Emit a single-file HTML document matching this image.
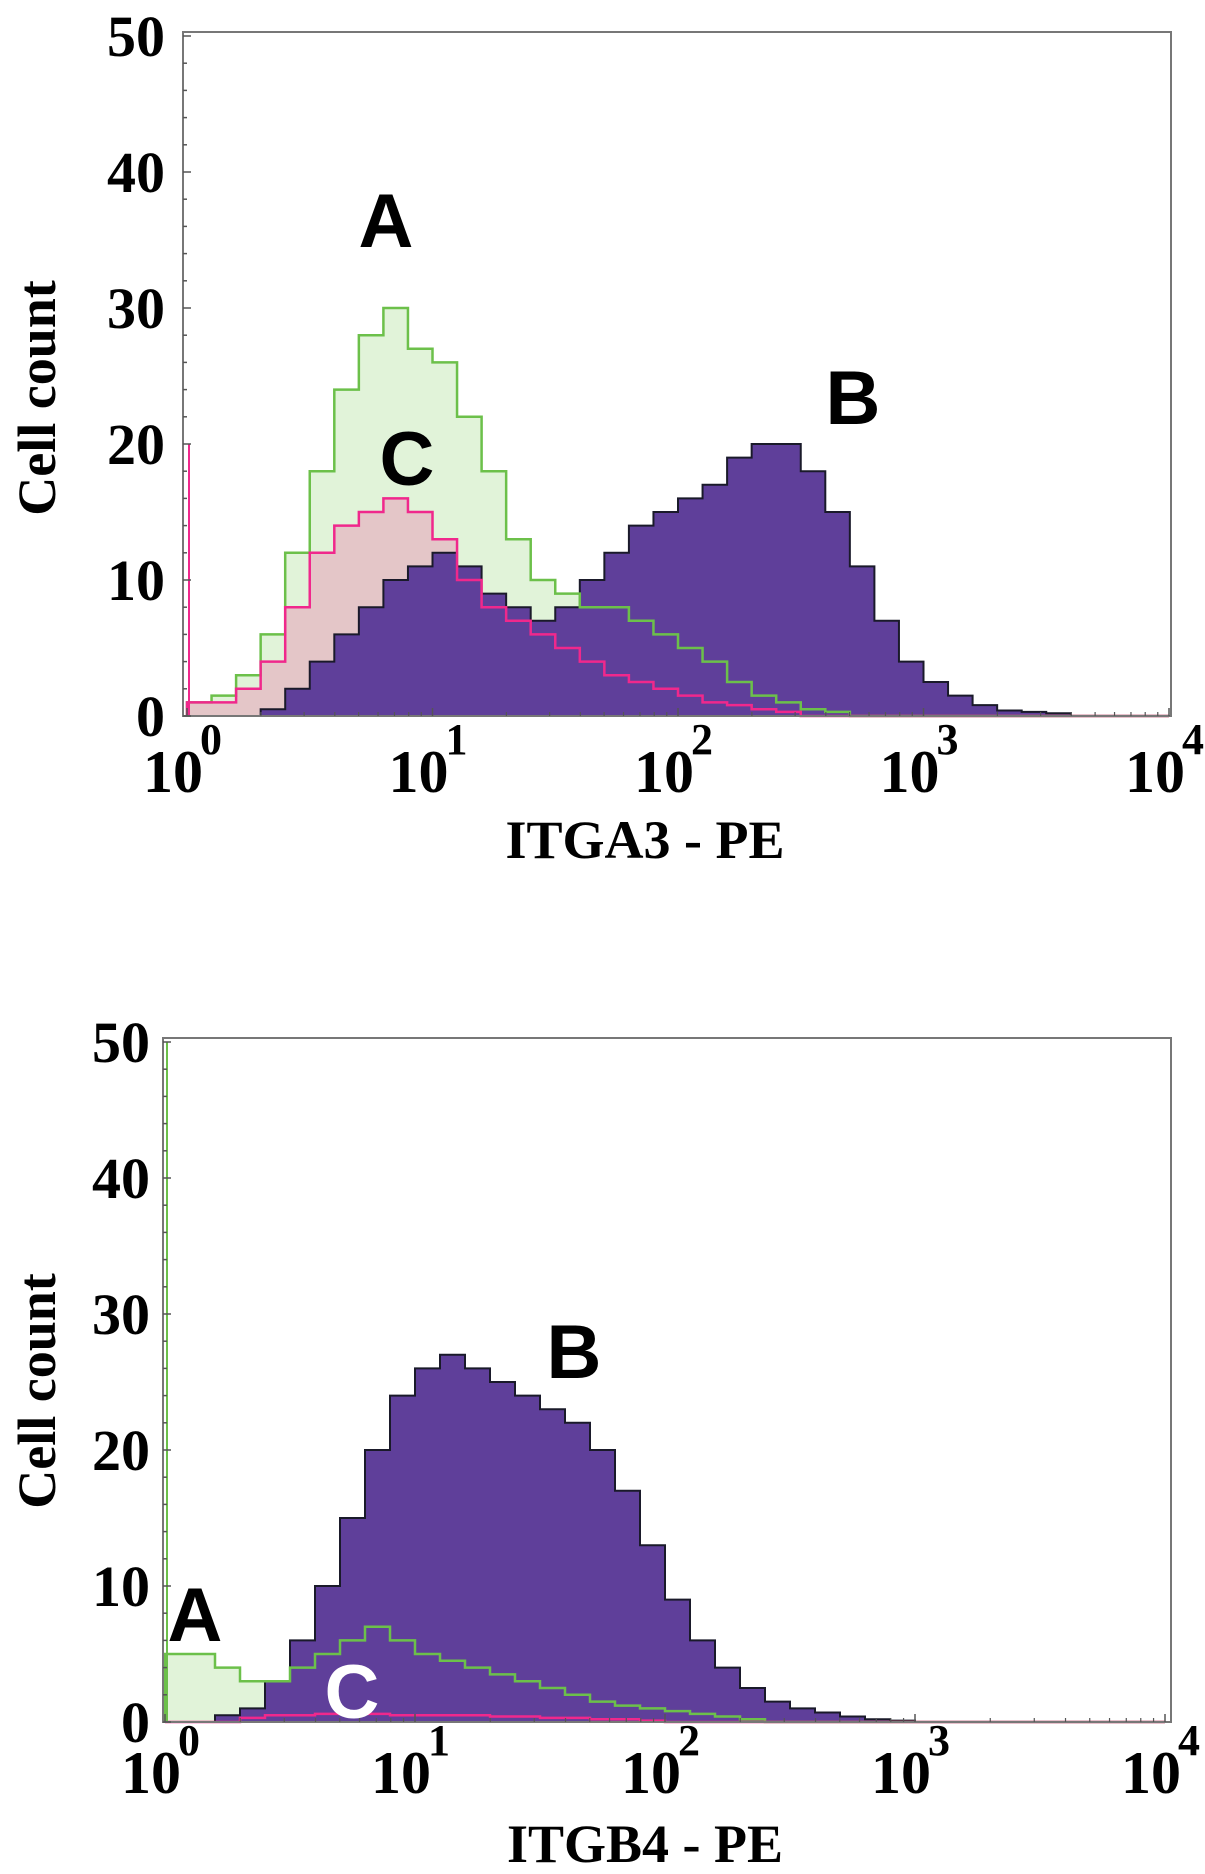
<!DOCTYPE html>
<html><head><meta charset="utf-8">
<style>
html,body{margin:0;padding:0;background:#fff;}
svg{display:block;}
text{font-family:"Liberation Serif",serif;font-weight:bold;fill:#000;}
.lbl{font-family:"Liberation Sans",sans-serif;font-weight:bold;}
</style></head>
<body>
<svg id="fig" width="1205" height="1874" viewBox="0 0 1205 1874" xmlns="http://www.w3.org/2000/svg"></svg>
<script>
// ---- data: cell counts per 0.1-decade bin (log10 fluorescence 0..4) ----
const xTickLabels = ["0","1","2","3","4"];
const yTickLabels = ["0","10","20","30","40","50"];
// Panel 1: ITGA3
const itga3B = [0,0,0,0.5,2,4,6,8,10,11,12,11,9,8,7,8,10,12,14,15,16,17,19,20,20,18,15,11,7,4,2.5,1.5,0.8,0.4,0.3,0.2,0,0,0,0];
const itga3A = [1,1.5,3,6,12,18,24,28,30,27,26,22,18,13,10,9,8,8,7,6,5,4,2.5,1.5,1,0.5,0.3,0,0,0,0,0,0,0,0,0,0,0,0,0];
const itga3C = [1,1,2,4,8,12,14,15,16,15,13,10,8,7,6,5,4,3,2.5,2,1.5,1,0.8,0.5,0.3,0,0,0,0,0,0,0,0,0,0,0,0,0,0,0];
const itga3FirstChannelC = 20;
// Panel 2: ITGB4
const itgb4B = [0,0,0.5,1,3,6,10,15,20,24,26,27,26,25,24,23,22,20,17,13,9,6,4,2.5,1.5,1,0.7,0.4,0.2,0.1,0,0,0,0,0,0,0,0,0,0];
const itgb4A = [5,5,4,3,3,4,5,6,7,6,5,4.5,4,3.5,3,2.5,2,1.5,1.2,1,0.8,0.6,0.4,0.2,0,0,0,0,0,0,0,0,0,0,0,0,0,0,0,0];
const itgb4C = [0,0,0,0.3,0.5,0.5,0.6,0.6,0.6,0.5,0.5,0.5,0.5,0.4,0.4,0.3,0.3,0.2,0.2,0.1,0,0,0,0,0,0,0,0,0,0,0,0,0,0,0,0,0,0,0,0];
const itgb4FirstChannelA = 50;

const NS = "http://www.w3.org/2000/svg";
const svg = document.getElementById('fig');
function mk(tag, attrs, parent){
  const e = document.createElementNS(NS, tag);
  for (const k in attrs) e.setAttribute(k, attrs[k]);
  (parent||svg).appendChild(e);
  return e;
}

function panel(cfg){
  const g = mk('g', {});
  
  
  const xS = v => cfg.x0 + (v/4)*(cfg.x1 - cfg.x0);
  const yS = v => cfg.y0 - (v/50)*(cfg.y0 - cfg.yTop);
  const binW = 0.1;

  function stepPath(arr, close){
    let d = 'M' + xS(0) + ',' + yS(0);
    arr.forEach((v,i)=>{ d += ' L' + xS(i*binW) + ',' + yS(v) + ' L' + xS((i+1)*binW) + ',' + yS(v); });
    d += ' L' + xS(4) + ',' + yS(0) + (close ? ' Z' : '');
    return d;
  }
  // light fills of A and C behind B
  mk('path', {d: stepPath(cfg.A, true), fill:'rgba(120,200,80,0.22)', stroke:'none'}, g);
  mk('path', {d: stepPath(cfg.C, true), fill:'rgba(240,40,140,0.22)', stroke:'none'}, g);
  // B filled histogram
  const b = mk('path', {d: stepPath(cfg.B, true), fill:'#5f3f9a', stroke:'#1a1a2a', 'stroke-width':2}, g);
  
  
  // A green outline
  const a = mk('path', {d: stepPath(cfg.A, false), fill:'none', stroke:'#6cc04a', 'stroke-width':2.5}, g);
  
  
  // C pink outline
  const c = mk('path', {d: stepPath(cfg.C, false), fill:'none', stroke:'#f0288c', 'stroke-width':2.5}, g);
  
  
  if (cfg.spike){
    const s = mk('line', {x1:xS(0)+2, x2:xS(0)+2, y1:yS(0), y2:yS(cfg.spike.v), stroke:cfg.spike.color, 'stroke-width':2}, g);
    
    
  }
  // baseline pink
  mk('line', {x1:xS(0), x2:cfg.right, y1:yS(0), y2:yS(0), stroke:'#f0288c', 'stroke-width':2}, g);
  // frame
  const f = mk('rect', {x:cfg.left, y:cfg.yTop-4, width:cfg.right-cfg.left, height:cfg.y0-cfg.yTop+4, fill:'none', stroke:'#777', 'stroke-width':2}, g);
  
  
  // y ticks
  yTickLabels.forEach((t,i)=>{
    const v = i*10;
    const tx = mk('text', {x:cfg.yLabX, y:yS(v)+20, 'text-anchor':'end', 'font-size':58}, g);
    tx.textContent = t;
    
    
    for (let m=0;m<5;m++){
      const mv = v + m*2;
      if (mv>50) break;
      mk('line', {x1:cfg.left, x2:cfg.left+(m===0?8:4), y1:yS(mv), y2:yS(mv), stroke:'#555', 'stroke-width':1.5}, g);
    }
  });
  // x ticks
  xTickLabels.forEach((t,i)=>{
    const x = xS(i);
    mk('line', {x1:x, x2:x, y1:yS(0), y2:yS(0)-8, stroke:'#555', 'stroke-width':1.5}, g);
    if (i<4) for (let k=2;k<10;k++){
      const mx = xS(i+Math.log10(k));
      mk('line', {x1:mx, x2:mx, y1:yS(0), y2:yS(0)-4, stroke:'#555', 'stroke-width':1.2}, g);
    }
    const tx = mk('text', {x:x-14, y:cfg.xLabY, 'text-anchor':'middle', 'font-size':60}, g);
    tx.textContent = '10';
    
    
    const sp = mk('text', {x:x+24, y:cfg.xLabY-38, 'text-anchor':'middle', 'font-size':44}, g);
    sp.textContent = t;
    
    
  });
  // titles
  const xt = mk('text', {x:cfg.xTitleX, y:cfg.xTitleY, 'text-anchor':'middle', 'font-size':54}, g);
  xt.textContent = cfg.xTitle;
  
  
  const yt = mk('text', {x:0, y:0, 'text-anchor':'middle', 'font-size':54, transform:'translate('+cfg.yTitleX+','+cfg.yTitleY+') rotate(-90)'}, g);
  yt.textContent = 'Cell count';
  
  
  // letter labels
  cfg.letters.forEach(L=>{
    const t = mk('text', {x:L.x, y:L.y, 'text-anchor':'middle', 'font-size':76, class:'lbl', style:'fill:'+L.c}, g);
    t.textContent = L.t;
    
    
  });
}

panel({name:'itga3-panel', left:183, right:1171, x0:187, x1:1169, y0:716, yTop:36,
  B:itga3B, A:itga3A, C:itga3C, spike:{v:itga3FirstChannelC, color:'#f0288c'},
  yLabX:165, xLabY:792, xTitle:'ITGA3 - PE', xTitleX:645, xTitleY:858, yTitleX:55, yTitleY:398,
  letters:[{t:'A',x:386,y:247,c:'#000'},{t:'B',x:853,y:424,c:'#000'},{t:'C',x:407,y:485,c:'#000'}]});

panel({name:'itgb4-panel', left:163, right:1171, x0:165, x1:1165, y0:1722, yTop:1042,
  B:itgb4B, A:itgb4A, C:itgb4C, spike:{v:itgb4FirstChannelA, color:'#6cc04a'},
  yLabX:150, xLabY:1793, xTitle:'ITGB4 - PE', xTitleX:645, xTitleY:1862, yTitleX:55, yTitleY:1391,
  letters:[{t:'B',x:574,y:1378,c:'#000'},{t:'A',x:195,y:1641,c:'#000'},{t:'C',x:352,y:1718,c:'#fff'}]});
</script>
</body></html>
